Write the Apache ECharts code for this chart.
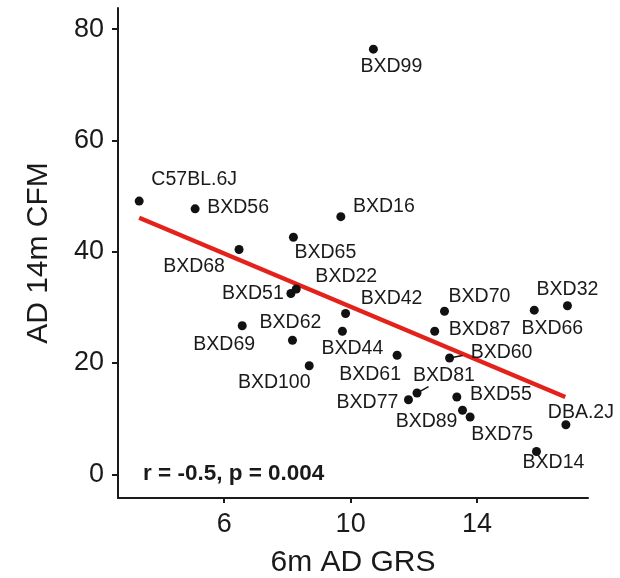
<!DOCTYPE html>
<html>
<head>
<meta charset="utf-8">
<script src="https://cdn.jsdelivr.net/npm/echarts@6/dist/echarts.min.js"></script>
<style>
html,body{margin:0;padding:0;background:#fff;}
#chart{width:620px;height:578px;}
</style>
</head>
<body>
<div id="chart"></div>
<script>
// ---- data ----
const strains = ['C57BL.6J','BXD56','BXD68','BXD65','BXD16','BXD99','BXD51','BXD22','BXD42','BXD44','BXD69','BXD62','BXD100','BXD61','BXD70','BXD87','BXD60','BXD66','BXD32','BXD81','BXD77','BXD55','BXD89','BXD75','DBA.2J','BXD14'];
const grs6m = [3.31, 5.08, 6.47, 8.19, 9.69, 10.72, 8.11, 8.28, 9.84, 9.74, 6.57, 8.16, 8.69, 11.47, 12.97, 12.66, 13.13, 15.81, 16.86, 12.10, 11.83, 13.36, 13.54, 13.78, 16.81, 15.88];
const cfm14m = [49.1, 47.7, 40.4, 42.6, 46.3, 76.4, 32.5, 33.3, 28.9, 25.7, 26.7, 24.1, 19.5, 21.4, 29.3, 25.7, 20.9, 29.5, 30.3, 14.6, 13.4, 13.9, 11.5, 10.3, 8.9, 4.1];
const fitX = [3.31, 16.79];
const fitY = [46.1, 13.9];
const xTicks = [6, 10, 14];
const yTicks = [0, 20, 40, 60, 80];
const statText = 'r = -0.5, p = 0.004';

// ---- label placement (pixel offsets from point) ----
const labelOffsets = {
  'C57BL.6J':[55,-21],'BXD56':[43,-1],'BXD68':[-45,17],'BXD65':[32,15],'BXD16':[43,-10],
  'BXD99':[18,17],'BXD51':[-38,0],'BXD22':[50,-12],'BXD42':[46,-15],'BXD44':[10,17],
  'BXD69':[-18,19],'BXD62':[-2,-18],'BXD100':[-35,17],'BXD61':[-27,19],'BXD70':[35,-15],
  'BXD87':[45,-2],'BXD60':[52,-5],'BXD66':[18,18],'BXD32':[0,-16],'BXD81':[27,-17],
  'BXD77':[-41,3],'BXD55':[44,-2],'BXD89':[-36,11],'BXD75':[32,18],'DBA.2J':[15,-12],'BXD14':[17,11]
};
const guides = {'BXD60':[13,-2.5],'BXD81':[11.5,-6.5]};

const FONT = 'Liberation Sans, Arial, sans-serif';
const pts = strains.map((n,i)=>({
  name:n, value:[grs6m[i], cfm14m[i]],
  label:{offset: labelOffsets[n]}
}));
const guideData = strains.map((n,i)=>[grs6m[i], cfm14m[i], i]).filter(d=>guides[strains[d[2]]]);

const chart = echarts.init(document.getElementById('chart'), null, {renderer:'canvas'});
chart.setOption({
  animation:false,
  backgroundColor:'#ffffff',
  grid:{left:118, right:32, top:8, bottom:80, containLabel:false, outerBoundsMode:'none'},
  xAxis:{
    type:'value', min:2.64, max:17.51,
    name:'6m AD GRS', nameLocation:'middle', nameGap:50,
    nameTextStyle:{fontFamily:FONT, fontSize:30, color:'#1a1a1a'},
    splitLine:{show:false},
    axisLine:{show:true, onZero:false, lineStyle:{color:'#1a1a1a', width:2}},
    axisTick:{show:true, customValues:xTicks, length:5, lineStyle:{color:'#1a1a1a', width:2}},
    axisLabel:{customValues:xTicks, fontFamily:FONT, fontSize:27, color:'#1a1a1a', margin:13}
  },
  yAxis:{
    type:'value', min:-4.26, max:83.8,
    name:'AD 14m CFM', nameLocation:'middle', nameGap:64, nameRotate:90,
    nameTextStyle:{fontFamily:FONT, fontSize:30, color:'#1a1a1a'},
    splitLine:{show:false},
    axisLine:{show:true, onZero:false, lineStyle:{color:'#1a1a1a', width:2}},
    axisTick:{show:true, customValues:yTicks, length:6, lineStyle:{color:'#1a1a1a', width:2}},
    axisLabel:{customValues:yTicks, fontFamily:FONT, fontSize:27, color:'#1a1a1a', margin:14}
  },
  series:[
    {
      type:'line', data:fitX.map((x,i)=>[x, fitY[i]]), showSymbol:false, symbol:'none',
      lineStyle:{color:'#e3231b', width:4.5}, z:2, silent:true
    },
    {
      type:'custom', z:3, silent:true,
      data:guideData,
      renderItem:function(params, api){
        const p = api.coord([api.value(0), api.value(1)]);
        const g = guides[strains[api.value(2)]];
        return {type:'line', shape:{x1:p[0], y1:p[1], x2:p[0]+g[0], y2:p[1]+g[1]},
          style:{stroke:'#111', lineWidth:1.5}};
      }
    },
    {
      type:'scatter', data:pts, symbolSize:9, z:4,
      itemStyle:{color:'#111111', opacity:1},
      label:{show:true, position:'inside', formatter:'{b}', fontFamily:FONT, fontSize:19.5, color:'#1a1a1a', opacity:1}
    }
  ],
  graphic:[
    {type:'text', x:143, y:474, style:{text:statText, font:'bold 22.5px ' + FONT, fill:'#1a1a1a', verticalAlign:'middle'}}
  ]
});
</script>
</body>
</html>
